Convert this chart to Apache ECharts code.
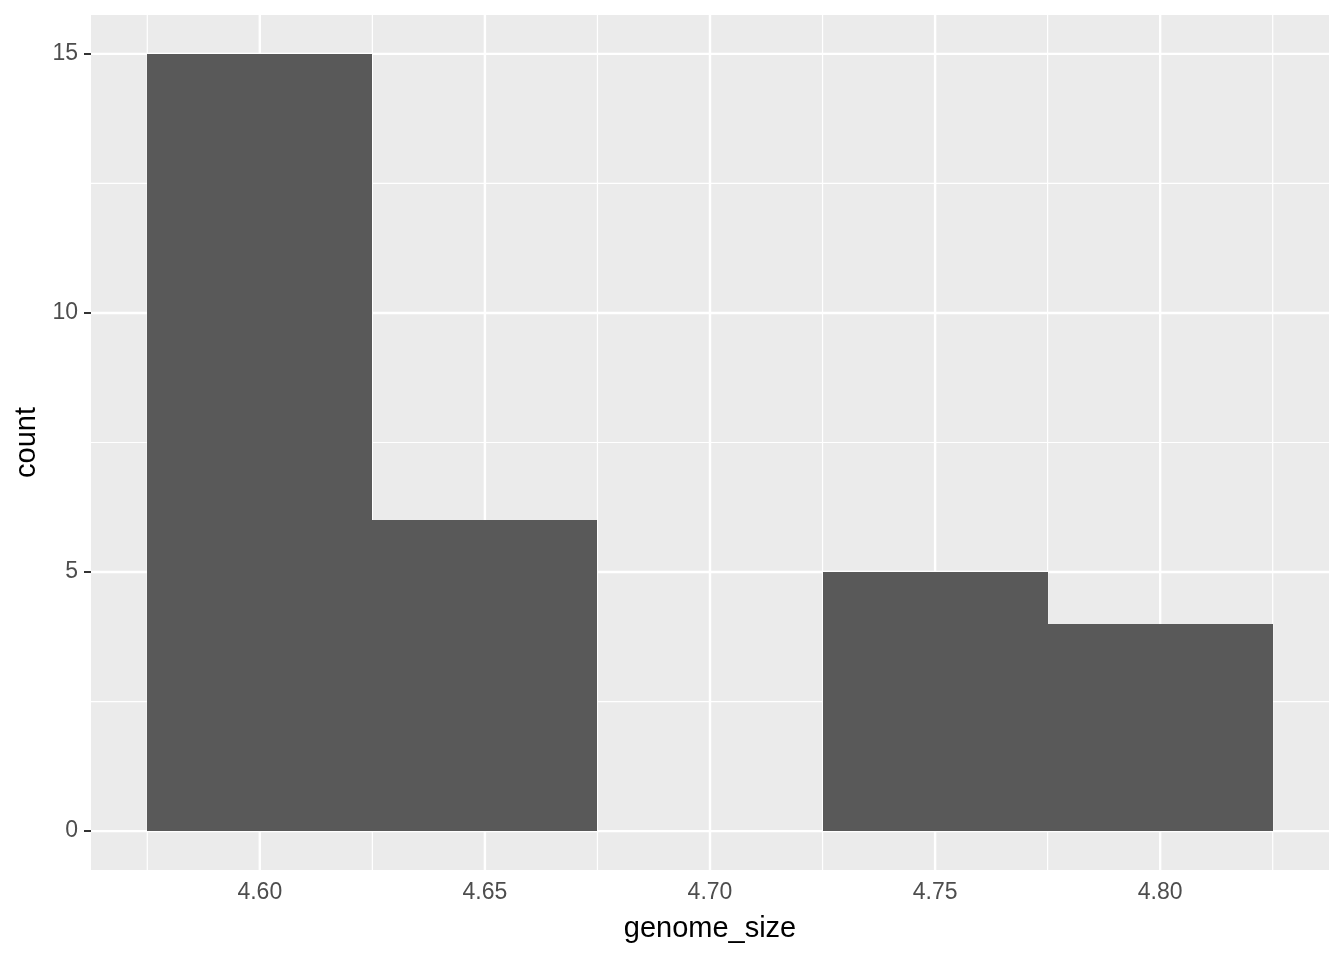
<!DOCTYPE html>
<html>
<head>
<meta charset="utf-8">
<script src="https://cdn.jsdelivr.net/npm/echarts@6/dist/echarts.min.js"></script>
<style>
  html, body { margin: 0; padding: 0; background: #fff; }
  #chart { width: 1344px; height: 960px; }
</style>
</head>
<body>
<div id="chart"></div>
<script>
// histogram bins (genome_size) and counts
const binStart = [4.575, 4.625, 4.675, 4.725, 4.775]
const binEnd = [4.625, 4.675, 4.725, 4.775, 4.825]
const counts = [15, 6, 0, 5, 4]

// axis ticks / grid lines
const xTicks = [4.60, 4.65, 4.70, 4.75, 4.80]
const xMinor = [4.575, 4.625, 4.675, 4.725, 4.775, 4.825]
const yTicks = [0, 5, 10, 15]
const yMinor = [2.5, 7.5, 12.5]

const bins = binStart.map((s, i) => [s, binEnd[i], counts[i]])

// rows: [value, line width]
const vLines = [...xMinor.map(v => [v, 1.2]), ...xTicks.map(v => [v, 2.4])]
const hLines = [...yMinor.map(v => [v, 1.2]), ...yTicks.map(v => [v, 2.4])]

const gridLine = (vertical) => (params, api) => {
  const cs = params.coordSys
  let shape
  if (vertical) {
    const x = api.coord([api.value(0), 0])[0]
    shape = { x1: x, y1: cs.y, x2: x, y2: cs.y + cs.height }
  } else {
    const y = api.coord([4.7, api.value(0)])[1]
    shape = { x1: cs.x, y1: y, x2: cs.x + cs.width, y2: y }
  }
  return {
    type: 'line',
    shape,
    style: { stroke: '#FFFFFF', lineWidth: api.value(1) }
  }
}

const chart = echarts.init(document.getElementById('chart'))
chart.setOption({
  animation: false,
  textStyle: { fontFamily: 'Liberation Sans, Arial, sans-serif' },
  grid: {
    left: 91, right: 15, top: 15, bottom: 90,
    show: true, backgroundColor: '#EBEBEB', borderWidth: 0
  },
  xAxis: {
    type: 'value',
    min: 4.5625,
    max: 4.8375,
    name: 'genome_size',
    nameLocation: 'middle',
    nameGap: 44,
    nameTextStyle: { color: '#000', fontSize: 29 },
    axisLine: { show: false },
    splitLine: { show: false },
    axisTick: {
      show: true, length: 7, customValues: xTicks,
      lineStyle: { color: '#333', width: 2 }
    },
    axisLabel: {
      customValues: xTicks, color: '#4D4D4D', fontSize: 23, margin: 11,
      formatter: v => v.toFixed(2)
    }
  },
  yAxis: {
    type: 'value',
    min: -0.75,
    max: 15.75,
    name: 'count',
    nameLocation: 'middle',
    nameRotate: 90,
    nameGap: 50,
    nameTextStyle: { color: '#000', fontSize: 29 },
    axisLine: { show: false },
    splitLine: { show: false },
    axisTick: {
      show: true, length: 7, customValues: yTicks,
      lineStyle: { color: '#333', width: 2 }
    },
    axisLabel: {
      customValues: yTicks, color: '#4D4D4D', fontSize: 23, margin: 13
    }
  },
  series: [
    {
      type: 'custom',
      silent: true,
      z: 1,
      data: vLines,
      encode: { x: 0 },
      renderItem: gridLine(true)
    },
    {
      type: 'custom',
      silent: true,
      z: 1,
      data: hLines,
      encode: { y: 0 },
      renderItem: gridLine(false)
    },
    {
      type: 'custom',
      z: 10,
      data: bins,
      encode: { x: [0, 1], y: 2 },
      renderItem: (params, api) => {
        const h = api.value(2)
        if (!h) return
        const p0 = api.coord([api.value(0), 0])
        const p1 = api.coord([api.value(1), h])
        // snap to whole pixels so neighbouring bars meet without a seam
        const x0 = Math.round(p0[0]), x1 = Math.round(p1[0])
        const y0 = Math.round(p0[1]), y1 = Math.round(p1[1])
        return {
          type: 'rect',
          shape: { x: x0, y: y1, width: x1 - x0, height: y0 - y1 },
          style: { fill: '#595959' }
        }
      }
    }
  ]
})
</script>
</body>
</html>
